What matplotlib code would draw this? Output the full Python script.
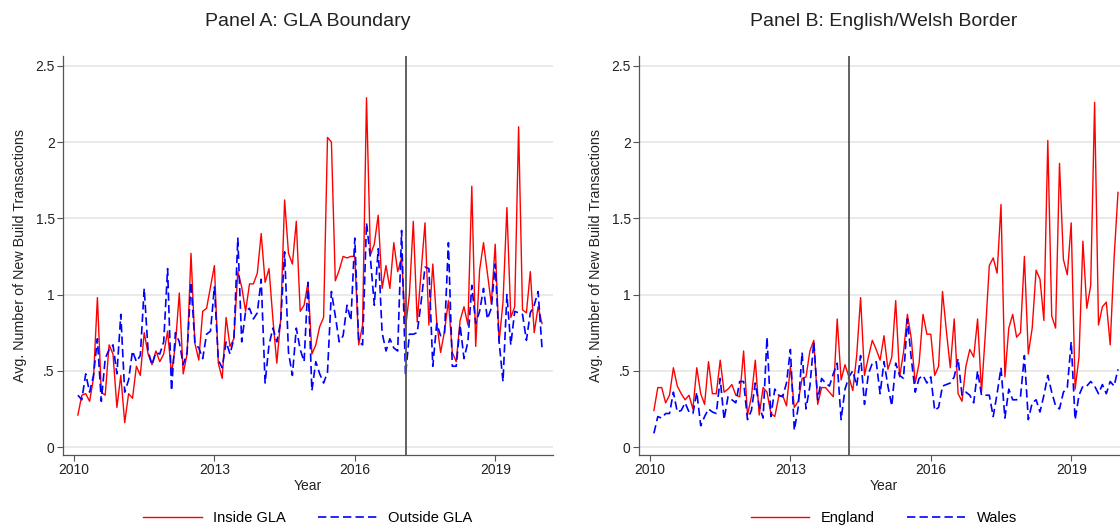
import numpy as np
import matplotlib
matplotlib.use("Agg")
import matplotlib.pyplot as plt

plt.rcParams['font.family'] = ['Liberation Sans', 'DejaVu Sans']

# monthly averages, Jan 2010 - Dec 2019
inside_gla = [0.21, 0.34, 0.35, 0.30, 0.45, 0.98, 0.36, 0.34, 0.67, 0.61,
              0.26, 0.47, 0.16, 0.35, 0.32, 0.53, 0.47, 0.75, 0.61, 0.54,
              0.63, 0.56, 0.61, 0.76, 0.48, 0.67, 1.01, 0.48, 0.61, 1.27,
              0.68, 0.57, 0.89, 0.91, 1.05, 1.19, 0.55, 0.45, 0.85, 0.66,
              0.71, 1.15, 1.05, 0.89, 1.07, 1.07, 1.14, 1.40, 1.08, 1.17,
              0.84, 0.55, 0.84, 1.62, 1.27, 1.20, 1.48, 0.89, 0.93, 1.08,
              0.61, 0.67, 0.79, 0.85, 2.03, 2.00, 1.09, 1.16, 1.25, 1.24,
              1.25, 1.25, 0.67, 0.80, 2.29, 1.26, 1.33, 1.52, 1.04, 1.19,
              1.04, 1.34, 1.15, 1.24, 0.78, 1.00, 1.48, 0.82, 1.15, 1.47,
              0.80, 1.20, 0.82, 0.62, 0.76, 0.96, 0.62, 0.56, 0.83, 0.92,
              0.80, 1.71, 0.66, 1.16, 1.34, 1.14, 0.94, 1.33, 0.69, 0.95,
              1.57, 0.85, 0.92, 2.10, 0.90, 0.88, 1.15, 0.75, 0.92, 0.81]

outside_gla = [0.34, 0.31, 0.48, 0.36, 0.47, 0.71, 0.30, 0.58, 0.64, 0.67,
               0.48, 0.87, 0.36, 0.44, 0.63, 0.56, 0.60, 1.04, 0.63, 0.54,
               0.62, 0.61, 0.69, 1.17, 0.37, 0.75, 0.69, 0.54, 0.62, 1.08,
               0.68, 0.65, 0.58, 0.74, 0.76, 1.05, 0.57, 0.52, 0.69, 0.61,
               0.71, 1.37, 0.69, 0.89, 0.91, 0.84, 0.88, 1.10, 0.42, 0.67,
               0.78, 0.69, 0.82, 1.28, 0.62, 0.47, 0.78, 0.64, 0.56, 1.08,
               0.37, 0.56, 0.48, 0.42, 0.49, 1.02, 0.86, 0.69, 0.73, 0.93,
               0.83, 1.37, 0.69, 0.67, 1.47, 1.24, 0.93, 1.30, 0.75, 0.63,
               0.71, 0.65, 0.63, 1.42, 0.47, 0.74, 0.74, 0.75, 0.95, 1.18,
               1.17, 0.53, 0.81, 0.73, 0.74, 1.34, 0.53, 0.53, 0.80, 0.58,
               0.69, 1.06, 0.81, 0.89, 1.04, 0.84, 0.91, 1.20, 0.69, 0.43,
               1.00, 0.67, 0.89, 0.88, 0.87, 0.70, 0.88, 0.93, 1.02, 0.65]

england = [0.24, 0.39, 0.39, 0.29, 0.34, 0.52, 0.40, 0.35, 0.31, 0.34,
           0.25, 0.52, 0.35, 0.28, 0.56, 0.35, 0.35, 0.57, 0.36, 0.38,
           0.41, 0.34, 0.33, 0.63, 0.21, 0.33, 0.57, 0.21, 0.39, 0.36,
           0.22, 0.20, 0.33, 0.34, 0.27, 0.53, 0.26, 0.30, 0.45, 0.46,
           0.63, 0.70, 0.28, 0.39, 0.39, 0.36, 0.33, 0.84, 0.44, 0.54,
           0.46, 0.37, 0.60, 0.98, 0.47, 0.59, 0.70, 0.64, 0.57, 0.73,
           0.51, 0.59, 0.96, 0.46, 0.62, 0.87, 0.71, 0.42, 0.55, 0.87,
           0.74, 0.74, 0.47, 0.53, 1.02, 0.76, 0.52, 0.84, 0.35, 0.30,
           0.53, 0.64, 0.59, 0.84, 0.36, 0.75, 1.19, 1.24, 1.14, 1.59,
           0.46, 0.78, 0.87, 0.72, 0.75, 1.25, 0.61, 0.78, 1.16, 1.10,
           0.83, 2.01, 0.86, 0.78, 1.86, 1.23, 1.13, 1.47, 0.38, 0.59,
           1.35, 0.91, 1.06, 2.26, 0.80, 0.92, 0.95, 0.67, 1.24, 1.67]

wales = [0.09, 0.20, 0.19, 0.22, 0.22, 0.36, 0.23, 0.24, 0.29, 0.23,
         0.22, 0.36, 0.14, 0.20, 0.25, 0.23, 0.22, 0.45, 0.18, 0.33,
         0.31, 0.29, 0.43, 0.43, 0.18, 0.24, 0.42, 0.27, 0.19, 0.72,
         0.20, 0.38, 0.34, 0.33, 0.42, 0.64, 0.11, 0.26, 0.62, 0.25,
         0.40, 0.69, 0.31, 0.45, 0.42, 0.40, 0.48, 0.55, 0.18, 0.38,
         0.46, 0.50, 0.40, 0.60, 0.28, 0.48, 0.55, 0.56, 0.35, 0.56,
         0.40, 0.27, 0.55, 0.47, 0.45, 0.84, 0.58, 0.36, 0.45, 0.47,
         0.42, 0.46, 0.24, 0.26, 0.40, 0.41, 0.42, 0.46, 0.58, 0.34,
         0.36, 0.34, 0.29, 0.50, 0.34, 0.34, 0.34, 0.20, 0.35, 0.52,
         0.19, 0.38, 0.31, 0.31, 0.33, 0.60, 0.18, 0.29, 0.31, 0.23,
         0.34, 0.47, 0.36, 0.27, 0.25, 0.36, 0.39, 0.69, 0.18, 0.34,
         0.40, 0.40, 0.43, 0.40, 0.35, 0.41, 0.35, 0.43, 0.40, 0.51]

# month index -> decimal year
months = 2010 + np.arange(1, len(inside_gla) + 1) / 12

yticks = [0, 0.5, 1, 1.5, 2, 2.5]
ytick_labels = ['0', '.5', '1', '1.5', '2', '2.5']
xticks = [2010, 2013, 2016, 2019]

panels = [
    ('Panel A: GLA Boundary', inside_gla, outside_gla, 'Inside GLA', 'Outside GLA', 2017 + 1/12),
    ('Panel B: English/Welsh Border', england, wales, 'England', 'Wales', 2014 + 3/12),
]

fig = plt.figure(figsize=(11.2, 5.26), dpi=100)
W, H = 1120, 526
axes_px = [(63, 56, 490, 399), (639, 56, 490, 399)]

for (title, s1, s2, lab1, lab2, event), (x0, y0, w, h) in zip(panels, axes_px):
    ax = fig.add_axes([x0 / W, 1 - (y0 + h) / H, w / W, h / H])
    ax.plot(months, s1, color='#ff0000', lw=1.0, label=lab1)
    ax.plot(months, s2, color='#0000ff', lw=1.2, dashes=(5, 2.5), label=lab2)
    ax.axvline(event, color='#555555', lw=1.3)

    ax.set_xlim(2009.765, 2020.235)
    ax.set_ylim(-0.052, 2.564)
    ax.set_yticks(yticks)
    ax.set_yticklabels(ytick_labels)
    ax.set_xticks(xticks)
    ax.grid(axis='y', color='#e8e8e8', lw=1.3)
    ax.set_axisbelow(True)
    for side in ['top', 'right']:
        ax.spines[side].set_visible(False)
    for side in ['left', 'bottom']:
        ax.spines[side].set_color('#555555')
        ax.spines[side].set_linewidth(0.9)
    ax.tick_params(direction='out', length=4, width=0.8, color='#555555',
                   labelsize=10, labelcolor='#222222', pad=2)

    ax.set_title(title, fontsize=14, color='#222222', pad=21.5)
    ax.set_xlabel('Year', fontsize=10, color='#222222', labelpad=1)
    ax.set_ylabel('Avg. Number of New Build Transactions', fontsize=10.3,
                  color='#222222', labelpad=6)

    ax.legend(loc='center', bbox_to_anchor=(0.5, -0.158), ncol=2, frameon=False,
              fontsize=10.5, handlelength=4.0, handletextpad=0.8, columnspacing=2.2)

fig.savefig('out.png', dpi=100)
